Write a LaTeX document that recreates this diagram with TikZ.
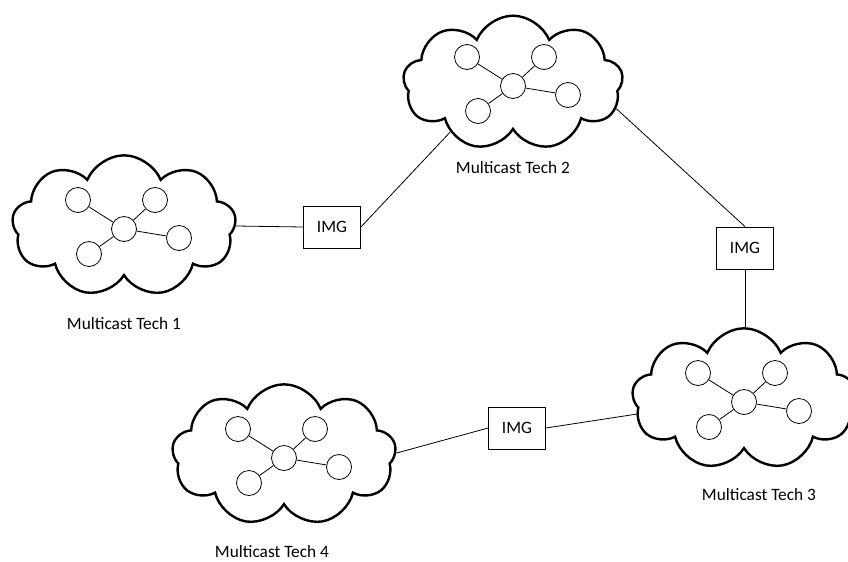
\documentclass[tikz,border=0pt]{standalone}
\usepackage{fontspec}
\setmainfont{Carlito}
\usetikzlibrary{shapes.symbols}

\tikzset{
    techcloud/.style={cloud, cloud puffs=9, cloud puff arc=135, cloud ignores aspect, draw, line width=1.8pt,
        minimum width=168pt, minimum height=106pt, inner sep=0pt},
    host/.style={circle, draw, line width=0.6pt, minimum size=18.75pt, inner sep=0pt, fill=white},
    gateway/.style={rectangle, draw, line width=0.6pt, minimum width=42.75pt, minimum height=31.5pt, inner sep=0pt},
    link/.style={line width=0.6pt}
}

\begin{document}
\begin{tikzpicture}[x=0.75pt, y=-0.75pt, font=\fontsize{13}{15}\selectfont]
    \useasboundingbox (0,0) rectangle (848,561);

    % The four multicast domains
    \node[techcloud] (c1) at (124,226) {};
    \node[techcloud, minimum width=165pt, minimum height=101pt] (c2) at (513,83) {};
    \node[techcloud] (c3) at (744,399) {};
    \node[techcloud] (c4) at (284,455) {};

    \node (lbl1) at (124,324) {Multicast Tech 1};
    \node (lbl2) at (513,168) {Multicast Tech 2};
    \node (lbl3) at (759,495) {Multicast Tech 3};
    \node (lbl4) at (272,552) {Multicast Tech 4};

    % Small network inside each cloud
    \foreach \n in {c1,c2,c3,c4} {
        \node[host] (\n-hub) at ([shift={(0,3)}]\n) {};
        \foreach \s/\dx/\dy in {a/-46/-29, b/31/-29, c/55/9, d/-35/25} {
            \node[host] (\n-\s) at ([shift={(\dx,\dy)}]\n-hub) {};
            \draw[link] (\n-hub) -- (\n-\s);
        }
    }

    % Gateways between domains
    \node[gateway] (img1) at (332,227) {IMG};
    \node[gateway] (img2) at (745,248) {IMG};
    \node[gateway] (img3) at (517,428) {IMG};

    \draw[link] (img1.west) -- (c1.0);
    \draw[link] (img1.east) -- (c2.218);
    \draw[link] (img2.north) -- (c2.-14);
    \draw[link] (img2.south) -- (img2.south |- c3.north);
    \draw[link] (img3.west) -- (c4.1);
    \draw[link] (img3.east) -- (c3.188);
\end{tikzpicture}
\end{document}
